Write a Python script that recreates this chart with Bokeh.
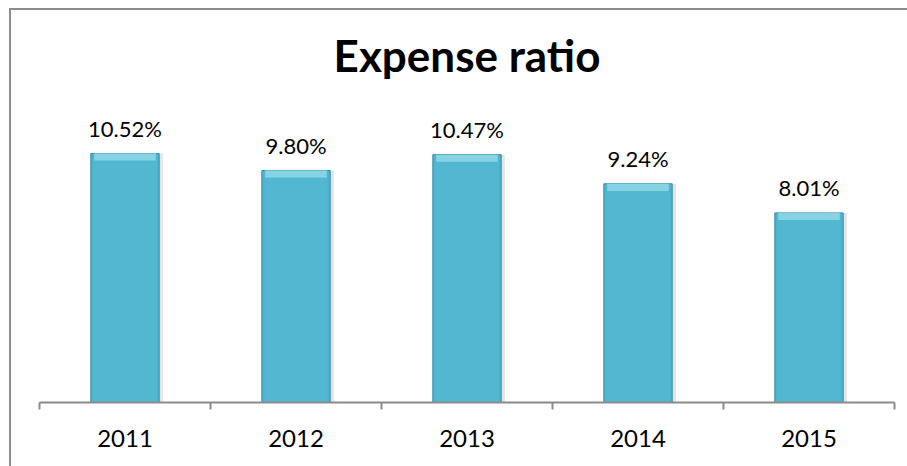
from bokeh.plotting import figure
from bokeh.models import ColumnDataSource, FixedTicker, Range1d
from bokeh.core.properties import value
from bokeh.embed import file_html
from bokeh.resources import INLINE

years = ["2011", "2012", "2013", "2014", "2015"]
ratios = [10.52, 9.80, 10.47, 9.24, 8.01]
labels = ["10.52%", "9.80%", "10.47%", "9.24%", "8.01%"]
title_text = "Expense ratio"

xs = [i + 0.5 for i in range(len(years))]
bevel = 0.30
src = ColumnDataSource(dict(
    x=xs, top=ratios, label=labels,
    bevel_bottom=[r - bevel for r in ratios],
    shadow_x=[x + 0.012 for x in xs],
))

p = figure(width=898, height=458, output_backend="svg", toolbar_location=None,
           x_range=Range1d(0, len(years)), y_range=Range1d(0, 16.18),
           min_border_left=28, min_border_right=15, min_border_top=9,
           min_border_bottom=66)
p.margin = (8, 0, 0, 9)
p.styles = {"border-top": "2px solid #8c8c8c", "border-left": "2px solid #8c8c8c",
            "box-sizing": "border-box"}
p.outline_line_color = None
p.xgrid.visible = False
p.ygrid.visible = False
p.yaxis.visible = False

# shadow
p.vbar(x="shadow_x", top="top", bottom=-0.05, width=0.42, source=src,
       fill_color="#000000", fill_alpha=0.10, line_color=None)
# main bar
p.vbar(x="x", top="top", bottom=0, width=0.4, source=src,
       fill_color="#4DB3CE", line_color="#3A8CA3", line_width=1)
# side shading
p.vbar(x="x", top="top", bottom=0, width=0.37, source=src,
       fill_color="#52B8D2", line_color=None)
# top bevel highlight
p.vbar(x="x", top="top", bottom="bevel_bottom", width=0.36, source=src,
       fill_color="#86D3E6", line_color=None)

p.text(x="x", y="top", text="label", source=src, text_align="center",
       text_baseline="alphabetic", y_offset=-25, text_font=value("Lato"),
       text_font_size="22px", text_color="#000000")

p.text(x=[len(years) / 2], y=[13.94], text=[title_text], text_align="center",
       text_baseline="alphabetic", y_offset=-18, text_font=value("Lato"),
       text_font_style="bold", text_font_size="44px", text_color="#000000")

ax = p.xaxis[0]
ax.ticker = FixedTicker(ticks=xs, minor_ticks=list(range(len(years) + 1)))
ax.major_label_overrides = {x: y for x, y in zip(xs, years)}
ax.major_tick_line_color = None
ax.minor_tick_line_color = "#8c8c8c"
ax.minor_tick_line_width = 2
ax.minor_tick_in = 0
ax.minor_tick_out = 7
ax.axis_line_color = "#8c8c8c"
ax.axis_line_width = 2
ax.major_label_standoff = 20
ax.major_label_text_font = "Lato"
ax.major_label_text_font_size = "24px"
ax.major_label_text_color = "#000000"

open("out.html", "w").write(file_html(p, INLINE))
